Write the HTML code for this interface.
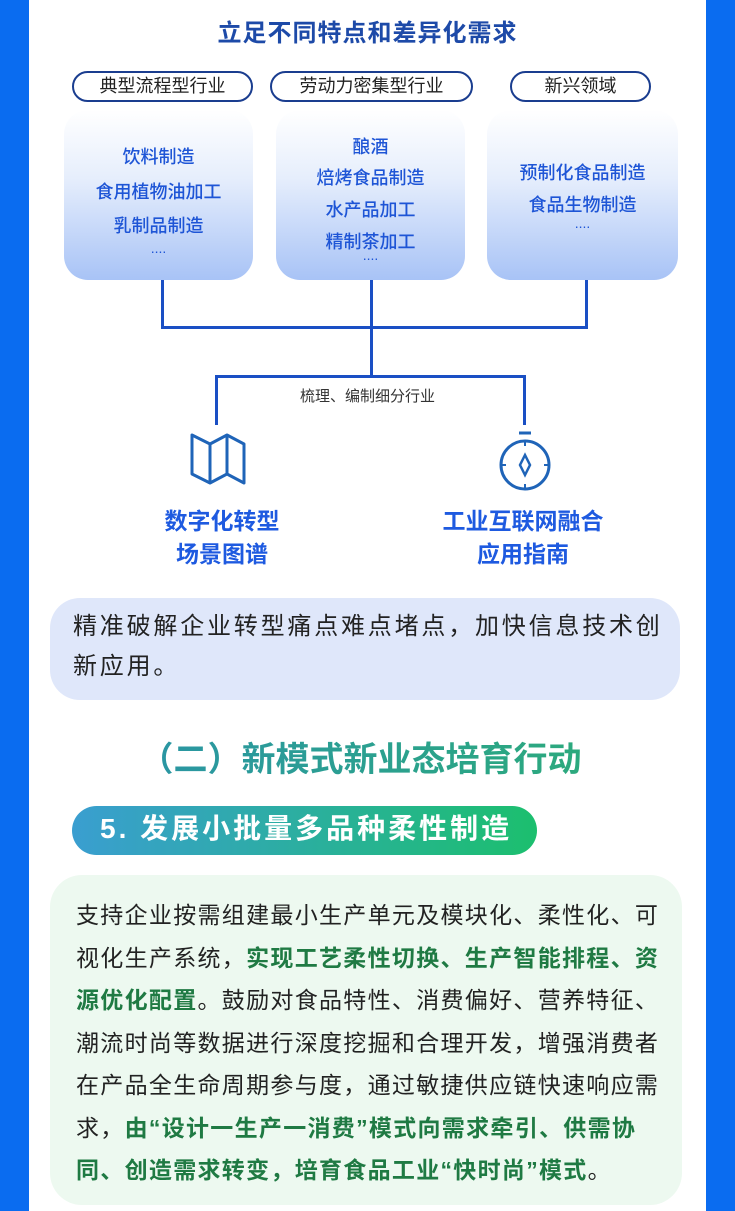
<!DOCTYPE html>
<html><head><meta charset="utf-8"><style>
*{margin:0;padding:0;box-sizing:border-box}
body{width:735px;height:1211px;background:#0a6cf0;position:relative;overflow:hidden;font-family:"Liberation Sans","Noto Sans CJK SC",sans-serif}
.panel{position:absolute;left:29px;top:0;width:677px;height:1211px;background:#fff}
.a{position:absolute;white-space:nowrap}
.pill{position:absolute;height:31px;border:2px solid #1a3d8f;border-radius:16px;font-size:18px;color:#222;text-align:center;line-height:27px}
.box{position:absolute;top:110px;height:170px;border-radius:24px;background:linear-gradient(#fff 0%,#e6eefc 40%,#a8c3f6 100%);color:#1e55d6;font-size:18px;text-align:center}
.box div{position:absolute;left:0;right:0;font-weight:500}
.ln{position:absolute;background:#1a4fc4}
.lbl{position:absolute;text-align:center;color:#1e5ae0;font-size:23px;font-weight:bold;line-height:33px}
.g{color:#1f7a43;font-weight:bold}
</style></head><body>
<div class="panel"></div>
<div class="a" style="left:0;width:735px;text-align:center;top:13px;font-size:24px;font-weight:bold;color:#1d4aa8;letter-spacing:1px">立足不同特点和差异化需求</div>

<div class="pill" style="left:72px;top:71px;width:181px">典型流程型行业</div>
<div class="pill" style="left:270px;top:71px;width:203px">劳动力密集型行业</div>
<div class="pill" style="left:510px;top:71px;width:141px">新兴领域</div>

<div class="box" style="left:64px;width:189px">
<div style="top:33px">饮料制造</div><div style="top:68px">食用植物油加工</div><div style="top:102px">乳制品制造</div><div style="top:130px;font-size:14px">....</div></div>
<div class="box" style="left:276px;width:189px">
<div style="top:23px">酿酒</div><div style="top:54px">焙烤食品制造</div><div style="top:86px">水产品加工</div><div style="top:118px">精制茶加工</div><div style="top:137px;font-size:14px">....</div></div>
<div class="box" style="left:487px;width:191px">
<div style="top:49px">预制化食品制造</div><div style="top:81px">食品生物制造</div><div style="top:105px;font-size:14px">....</div></div>

<div class="ln" style="left:161px;top:280px;width:3px;height:49px"></div>
<div class="ln" style="left:370px;top:280px;width:3px;height:96px"></div>
<div class="ln" style="left:585px;top:280px;width:3px;height:49px"></div>
<div class="ln" style="left:161px;top:326px;width:427px;height:3px"></div>
<div class="ln" style="left:215px;top:375px;width:311px;height:3px"></div>
<div class="ln" style="left:215px;top:375px;width:3px;height:50px"></div>
<div class="ln" style="left:523px;top:375px;width:3px;height:50px"></div>
<div class="a" style="left:300px;top:385px;font-size:15px;color:#333">梳理、编制细分行业</div>

<svg class="a" style="left:185px;top:428px" width="66" height="60" viewBox="0 0 66 60">
<polygon points="7,7 25,16 42,7 59,16 59,55 42,46 25,55 7,46" fill="none" stroke="#1f64b8" stroke-width="3" stroke-linejoin="round"/>
<line x1="25" y1="16" x2="25" y2="55" stroke="#1f64b8" stroke-width="3"/><line x1="42" y1="7" x2="42" y2="46" stroke="#1f64b8" stroke-width="3"/></svg>
<svg class="a" style="left:495px;top:428px" width="60" height="64" viewBox="0 0 60 64">
<line x1="24" y1="5" x2="36" y2="5" stroke="#1f64b8" stroke-width="3"/>
<circle cx="30" cy="37" r="24" fill="none" stroke="#1f64b8" stroke-width="3"/>
<line x1="30" y1="13" x2="30" y2="18" stroke="#1f64b8" stroke-width="2"/><line x1="30" y1="56" x2="30" y2="61" stroke="#1f64b8" stroke-width="2"/>
<line x1="6" y1="37" x2="11" y2="37" stroke="#1f64b8" stroke-width="2"/><line x1="49" y1="37" x2="54" y2="37" stroke="#1f64b8" stroke-width="2"/>
<polygon points="30,27 35,37 30,47 25,37" fill="none" stroke="#1f64b8" stroke-width="2.5"/></svg>

<div class="lbl" style="left:122px;width:200px;top:505px">数字化转型<br>场景图谱</div>
<div class="lbl" style="left:403px;width:240px;top:505px">工业互联网融合<br>应用指南</div>

<div class="a" style="left:50px;top:598px;width:630px;height:102px;background:#dfe7fa;border-radius:30px"></div>
<div class="a" style="left:73px;top:607px;font-size:24px;line-height:40px;color:#222;letter-spacing:2.8px">精准破解企业转型痛点难点堵点，加快信息技术创<br>新应用。</div>

<div class="a" style="left:0;width:735px;text-align:center;top:732px;font-size:34px;font-weight:bold;color:#2a9a86;background:linear-gradient(90deg,#2a8fb0,#2cb070);-webkit-background-clip:text;background-clip:text;-webkit-text-fill-color:transparent"><span style="margin-left:-14px">（二）新模式新业态培育行动</span></div>

<div class="a" style="left:72px;top:806px;width:465px;height:49px;border-radius:25px;background:linear-gradient(90deg,#3a9ed0,#1cbf6e)"></div>
<div class="a" style="left:100px;top:810px;font-size:28px;font-weight:bold;color:#fff;line-height:38px;letter-spacing:3px">5. 发展小批量多品种柔性制造</div>

<div class="a" style="left:50px;top:875px;width:632px;height:330px;background:#edf9f0;border-radius:32px"></div>
<div class="a" style="left:76px;top:894px;font-size:23px;line-height:42.5px;color:#222;letter-spacing:1.3px">支持企业按需组建最小生产单元及模块化、柔性化、可<br>视化生产系统，<span class="g">实现工艺柔性切换、生产智能排程、资</span><br><span class="g">源优化配置</span>。鼓励对食品特性、消费偏好、营养特征、<br>潮流时尚等数据进行深度挖掘和合理开发，增强消费者<br>在产品全生命周期参与度，通过敏捷供应链快速响应需<br>求，<span class="g">由“设计一生产一消费”模式向需求牵引、供需协</span><br><span class="g">同、创造需求转变，培育食品工业“快时尚”模式</span>。</div>
</body></html>
